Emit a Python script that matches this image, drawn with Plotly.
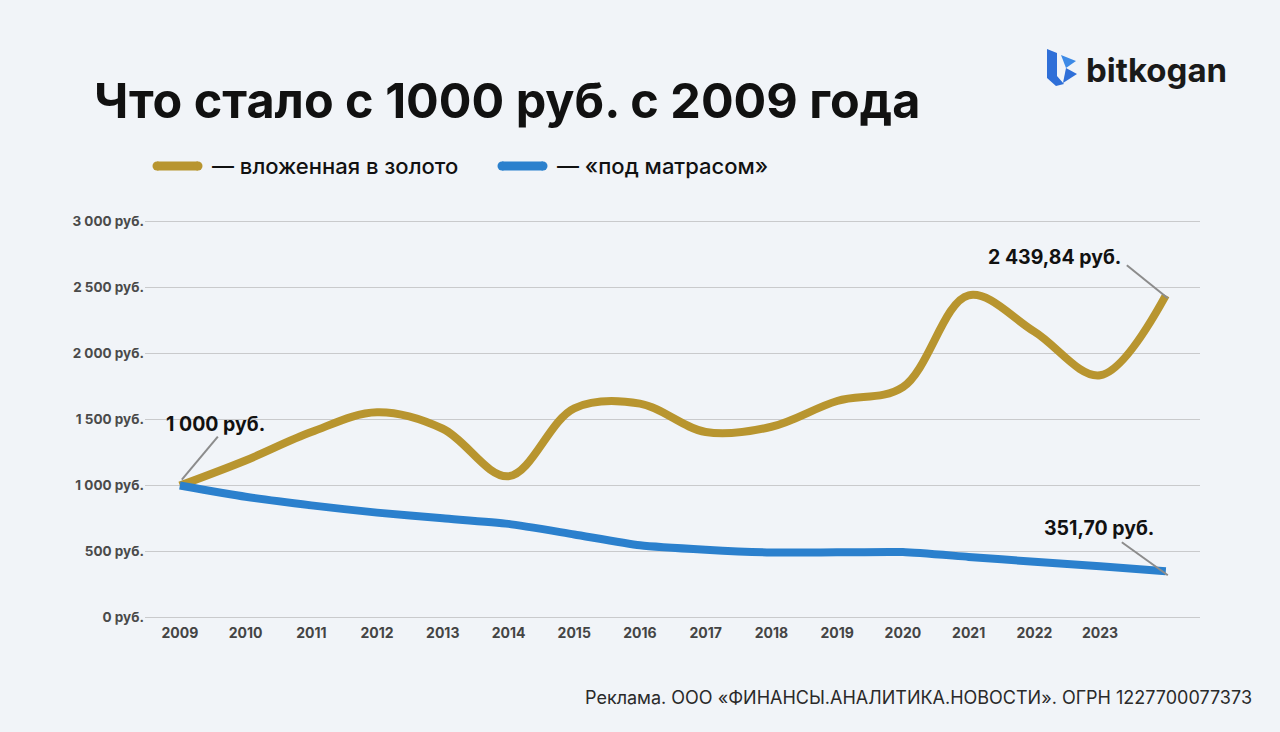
import plotly.graph_objects as go

# ---------------- data ----------------
years = list(range(2009, 2025))
tick_years = list(range(2009, 2024))
gold_values = [1000, 1190, 1405, 1555, 1430, 1070, 1585, 1620, 1405, 1445,
               1640, 1745, 2440, 2165, 1835, 2439.84]
cash_values = [1000, 915, 850, 795, 752, 710, 630, 548, 514, 493,
               495, 497, 460, 423, 389, 351.70]
y_tick_vals = [0, 500, 1000, 1500, 2000, 2500, 3000]
y_tick_text = ["0 руб.", "500 руб.", "1 000 руб.", "1 500 руб.",
               "2 000 руб.", "2 500 руб.", "3 000 руб."]
gold_name = "— вложенная в золото"
cash_name = "— «под матрасом»"
title_text = "Что стало с 1000 руб. с 2009 года"
footer_text = "Реклама. ООО «ФИНАНСЫ.АНАЛИТИКА.НОВОСТИ». ОГРН 1227700077373"
brand_text = "bitkogan"
label_start = "1 000 руб."
label_gold_end = "2 439,84 руб."
label_cash_end = "351,70 руб."

# ---------------- style ----------------
W, H = 1280, 732
L, R, T, B = 145, 1200, 220, 619
BG = "#F1F4F8"
GOLD = "#B8952F"
BLUE = "#2B80CD"
FONT = "Inter"


def px(x):
    return (x - L) / (R - L)


def py(y):
    return (B - y) / (B - T)


fig = go.Figure()
fig.add_trace(go.Scatter(x=years, y=gold_values, mode="lines",
                         line=dict(color=GOLD, width=8, shape="spline", smoothing=1.0),
                         name=gold_name, showlegend=False, hoverinfo="skip"))
fig.add_trace(go.Scatter(x=years, y=cash_values, mode="lines",
                         line=dict(color=BLUE, width=8, shape="spline", smoothing=0.6),
                         name=cash_name, showlegend=False, hoverinfo="skip"))

shapes = []
annotations = []

# callout lines (pixel offsets from data points)
callouts = [
    (years[0], gold_values[0], 2, 6, 38, 49),
    (years[-1], gold_values[-1], 2, -3, -39, 30),
    (years[-1], cash_values[-1], 2, -4, -44, 29),
]
for xa, ya, x0, y0, x1, y1 in callouts:
    shapes.append(dict(type="line", xref="x", yref="y",
                       xsizemode="pixel", ysizemode="pixel",
                       xanchor=xa, yanchor=ya, x0=x0, y0=y0, x1=x1, y1=y1,
                       line=dict(color="#8C8C8C", width=2), layer="above"))

# value labels
labels = [
    (years[0], gold_values[0], label_start, 36, 62),
    (years[-1], gold_values[-1], label_gold_end, -111, 38),
    (years[-1], cash_values[-1], label_cash_end, -67, 43),
]
for xa, ya, txt, xs, ys in labels:
    annotations.append(dict(x=xa, y=ya, xref="x", yref="y", text=txt, showarrow=False,
                            xshift=xs, yshift=ys, xanchor="center", yanchor="middle",
                            font=dict(family=FONT, size=19.5, color="#111111", weight=700)))

# title
annotations.append(dict(x=px(92), y=py(100), xref="paper", yref="paper", text=title_text,
                        showarrow=False, xanchor="left", yanchor="middle",
                        font=dict(family=FONT, size=48.5, color="#111111", weight=700)))

# legend (custom)
legend_items = [(153, 202, GOLD, gold_name), (498, 547, BLUE, cash_name)]
for x0, x1, col, name in legend_items:
    shapes.append(dict(type="line", xref="paper", yref="paper",
                       x0=px(x0 + 4), x1=px(x1 - 4), y0=py(166), y1=py(166),
                       line=dict(color=col, width=9)))
    for cx in (x0 + 4, x1 - 4):
        shapes.append(dict(type="circle", xref="paper", yref="paper",
                           x0=px(cx - 4.5), x1=px(cx + 4.5), y0=py(170.5), y1=py(161.5),
                           fillcolor=col, line=dict(width=0)))
    annotations.append(dict(x=px(x1 + 8), y=py(166), xref="paper", yref="paper", text=name,
                            showarrow=False, xanchor="left", yanchor="middle",
                            font=dict(family=FONT, size=22, color="#111111", weight=500)))

# footer
annotations.append(dict(x=px(1254), y=py(697), xref="paper", yref="paper", text=footer_text,
                        showarrow=False, xanchor="right", yanchor="middle",
                        font=dict(family=FONT, size=18, color="#2A2A2A", weight=400)))

# brand logo
annotations.append(dict(x=px(1084), y=py(70), xref="paper", yref="paper", text=brand_text,
                        showarrow=False, xanchor="left", yanchor="middle",
                        font=dict(family=FONT, size=33, color="#1A1A1A", weight=700)))


def path(points):
    return "M " + " L ".join(f"{px(a):.5f},{py(b):.5f}" for a, b in points) + " Z"


shapes.append(dict(type="path", xref="paper", yref="paper",
                   path=path([(1047, 49), (1057, 53), (1057, 76), (1064, 84), (1056, 86), (1047, 78)]),
                   fillcolor="#2F6FD8", line=dict(width=0)))
shapes.append(dict(type="path", xref="paper", yref="paper",
                   path=path([(1061, 55), (1076, 61), (1066, 68)]),
                   fillcolor="#3D8AE6", line=dict(width=0)))
shapes.append(dict(type="path", xref="paper", yref="paper",
                   path=path([(1066, 68), (1077, 74), (1063, 83)]),
                   fillcolor="#2F6FD8", line=dict(width=0)))

fig.update_layout(
    width=W, height=H,
    paper_bgcolor=BG, plot_bgcolor=BG,
    margin=dict(l=L, r=W - R, t=T, b=H - B, pad=0),
    shapes=shapes, annotations=annotations,
    font=dict(family=FONT),
    showlegend=False,
    xaxis=dict(range=[2008.47, 2024.52], tickmode="array", tickvals=tick_years,
               ticktext=[str(v) for v in tick_years], showgrid=False, zeroline=False,
               showline=False, ticks="", ticklabelstandoff=4,
               tickfont=dict(family=FONT, size=14, color="#444444", weight=700)),
    yaxis=dict(range=[-10, 3010], tickmode="array", tickvals=y_tick_vals, ticktext=y_tick_text,
               showgrid=True, gridcolor="#C9CACC", gridwidth=1, zeroline=False,
               showline=False, ticks="", ticklabelstandoff=0,
               tickfont=dict(family=FONT, size=13.5, color="#4A4A4A", weight=700)),
)

fig.write_html("out.html", config={"displayModeBar": False},
               post_script="document.body.style.margin='0';")
